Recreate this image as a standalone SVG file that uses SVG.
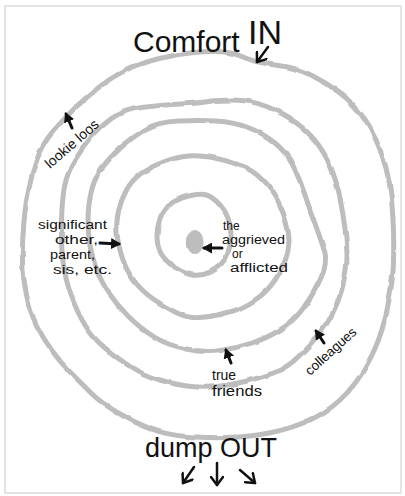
<svg xmlns="http://www.w3.org/2000/svg" width="405" height="496" viewBox="0 0 405 496">
  <style>
    .ring { fill: none; stroke: #bdbdbd; stroke-width: 5; stroke-linejoin: round; }
    .hand { font-family: "Liberation Sans", "DejaVu Sans", sans-serif; fill: #111; }
    .big { font-size: 30px; }
    .small { font-size: 14px; }
    .label { font-size: 12px; }
    .shaft { stroke: #111; stroke-width: 3; stroke-linecap: round; fill: none; }
    .thin { stroke: #111; stroke-width: 2.5; stroke-linecap: round; fill: none; }
  </style>
  <defs>
    <filter id="wobble" filterUnits="userSpaceOnUse" x="0" y="0" width="405" height="496">
      <feTurbulence type="fractalNoise" baseFrequency="0.05" numOctaves="2" seed="4" result="n"/>
      <feDisplacementMap in="SourceGraphic" in2="n" scale="3" xChannelSelector="R" yChannelSelector="G"/>
    </filter>
    <marker id="headFill" markerUnits="userSpaceOnUse" markerWidth="11" markerHeight="11" refX="8" refY="5.5" orient="auto">
      <path d="M0,0 L10,5.5 L0,11 Z" fill="#111"/>
    </marker>
    <marker id="headOpen" markerUnits="userSpaceOnUse" markerWidth="14" markerHeight="14" refX="10" refY="7" orient="auto">
      <path d="M2,1 L10,7 L2,13" fill="none" stroke="#111" stroke-width="2.5" stroke-linecap="round" stroke-linejoin="round"/>
    </marker>
  </defs>

  <rect x="5" y="6" width="396" height="487" fill="#fff" stroke="#e4e4e4" stroke-width="2"/>

  <g id="rings" filter="url(#wobble)">
    <g id="ring-lookie-loos">
      <path class="ring" d="M 178.5,54.5 Q 200,51 216.5,51.5 Q 233,52 243,57 Q 253,62 275,65 Q 297,68 312,75.5 Q 327,83 340,93 Q 353,103 361.5,115 Q 370,127 376,140 Q 382,153 386,168 Q 390,183 391.5,199 Q 393,215 393.5,231 Q 394,247 393.5,262.5 Q 393,278 389,300 Q 385,322 379,338.5 Q 373,355 363,371.5 Q 353,388 340,400 Q 327,412 310,420 Q 293,428 271.5,432.5 Q 250,437 227.5,437.5 Q 205,438 186,436.5 Q 167,435 150,428.5 Q 133,422 116.5,412 Q 100,402 91.5,393.5 Q 83,385 71.5,373.5 Q 60,362 51.5,350 Q 43,338 36.5,325 Q 30,312 26.5,295 Q 23,278 22.5,262.5 Q 22,247 23.5,227 Q 25,207 28.5,190 Q 32,173 37.5,158 Q 43,143 53,131.5 Q 63,120 73,110 Q 83,100 100,86.5 Q 117,73 137,65.5 Q 157,58 178.5,54.5 Z"/>
    </g>
    <g id="ring-colleagues">
      <path class="ring" d="M 180,104 Q 200,103 208.5,101.5 Q 217,100 233.5,100 Q 250,100 266.5,106.5 Q 283,113 296.5,123 Q 310,133 318.5,145 Q 327,157 332,170 Q 337,183 340,198 Q 343,213 345,229 Q 347,245 347,256.5 Q 347,268 343.5,283 Q 340,298 333.5,311.5 Q 327,325 318.5,335 Q 310,345 298.5,356.5 Q 287,368 273.5,373 Q 260,378 245,381.5 Q 230,385 217.5,386.5 Q 205,388 191,386.5 Q 177,385 160,380 Q 143,375 130,366.5 Q 117,358 105,348 Q 93,338 85,325 Q 77,312 71,295 Q 65,278 63,261.5 Q 61,245 61.5,222.5 Q 62,200 64.5,186.5 Q 67,173 75,160 Q 83,147 91.5,137 Q 100,127 111.5,118.5 Q 123,110 141.5,107.5 Q 160,105 180,104 Z"/>
    </g>
    <g id="ring-true-friends">
      <path class="ring" d="M 178.5,121 Q 200,120 216.5,121 Q 233,122 248,127.5 Q 263,133 275,143 Q 287,153 293.5,166.5 Q 300,180 305,195 Q 310,210 315.5,225 Q 321,240 324.5,251.5 Q 328,263 320.5,279 Q 313,295 303,308.5 Q 293,322 280,330 Q 267,338 252,343 Q 237,348 221,350.5 Q 205,353 186,349 Q 167,345 153.5,336.5 Q 140,328 128.5,316.5 Q 117,305 108.5,292.5 Q 100,280 95,265 Q 90,250 88.5,232.5 Q 87,215 90,197.5 Q 93,180 101.5,168.5 Q 110,157 121.5,147 Q 133,137 145,129.5 Q 157,122 178.5,121 Z"/>
    </g>
    <g id="ring-significant-other">
      <path class="ring" d="M 188.5,156 Q 200,155 216.5,158.5 Q 233,162 245,167.5 Q 257,173 267,185 Q 277,197 282,210 Q 287,223 288.5,234 Q 290,245 286.5,256.5 Q 283,268 275,280 Q 267,292 255,300 Q 243,308 231.5,311.5 Q 220,315 210,316.5 Q 200,318 192.5,317.5 Q 185,317 175,312 Q 165,307 154,299.5 Q 143,292 135,282 Q 127,272 122.5,258.5 Q 118,245 117,233.5 Q 116,222 118.5,211 Q 121,200 126.5,190 Q 132,180 141,173.5 Q 150,167 163.5,162 Q 177,157 188.5,156 Z"/>
    </g>
    <g id="ring-aggrieved">
      <path class="ring" d="M 188.5,196 Q 200,193 206.5,195 Q 213,197 220,205 Q 227,213 229.5,223 Q 232,233 230.5,242.5 Q 229,252 224.5,259.5 Q 220,267 210,272 Q 200,277 190,274.5 Q 180,272 171.5,265 Q 163,258 160,251.5 Q 157,245 157,236 Q 157,227 160,218.5 Q 163,210 170,204.5 Q 177,199 188.5,196 Z"/>
    </g>
    <g id="center-dot">
      <ellipse cx="195" cy="242" rx="8.5" ry="12" fill="#bdbdbd"/>
    </g>
  </g>

  <g id="label-comfort-in">
    <text class="hand big" x="133" y="52">Comfort <tspan font-size="34" dy="-8">IN</tspan></text>
  </g>
  <g id="label-lookie-loos">
    <text class="hand small" x="50" y="169" transform="rotate(-41 50 169)" textLength="66" lengthAdjust="spacingAndGlyphs">lookie loos</text>
  </g>
  <g id="label-significant-other">
    <text class="hand label"><tspan x="38" y="229" textLength="69" lengthAdjust="spacingAndGlyphs">significant</tspan><tspan x="55" y="244" textLength="43" lengthAdjust="spacingAndGlyphs">other,</tspan><tspan x="50" y="259" textLength="45" lengthAdjust="spacingAndGlyphs">parent,</tspan><tspan x="53" y="274" textLength="59" lengthAdjust="spacingAndGlyphs">sis, etc.</tspan></text>
  </g>
  <g id="label-aggrieved">
    <text class="hand label"><tspan x="223" y="230">the</tspan><tspan x="222" y="244" textLength="63" lengthAdjust="spacingAndGlyphs">aggrieved</tspan><tspan x="232" y="258">or</tspan><tspan x="230" y="272" textLength="58" lengthAdjust="spacingAndGlyphs">afflicted</tspan></text>
  </g>
  <g id="label-true-friends">
    <text class="hand small"><tspan x="212" y="380">true</tspan><tspan x="212" y="396" textLength="50" lengthAdjust="spacingAndGlyphs">friends</tspan></text>
  </g>
  <g id="label-colleagues">
    <text class="hand" font-size="13.5" x="310" y="376" transform="rotate(-42 310 376)" textLength="64" lengthAdjust="spacingAndGlyphs">colleagues</text>
  </g>
  <g id="label-dump-out">
    <text class="hand" font-size="28" x="145" y="457" textLength="132" lengthAdjust="spacingAndGlyphs">dump OUT</text>
  </g>

  <g id="connectors">
    <line class="thin" x1="268" y1="47" x2="257" y2="62" marker-end="url(#headOpen)"/>
    <line class="shaft" x1="72" y1="128" x2="66" y2="114" marker-end="url(#headFill)"/>
    <line class="shaft" x1="100" y1="243" x2="119" y2="244" marker-end="url(#headFill)"/>
    <line class="shaft" x1="222" y1="248" x2="204" y2="248" marker-end="url(#headFill)"/>
    <line class="shaft" x1="231" y1="363" x2="226" y2="350" marker-end="url(#headFill)"/>
    <line class="shaft" x1="324" y1="343" x2="316" y2="331" marker-end="url(#headFill)"/>
    <line class="thin" x1="194" y1="467" x2="183" y2="483" marker-end="url(#headOpen)"/>
    <line class="thin" x1="217" y1="463" x2="217" y2="485" marker-end="url(#headOpen)"/>
    <line class="thin" x1="240" y1="470" x2="255" y2="483" marker-end="url(#headOpen)"/>
  </g>
</svg>
